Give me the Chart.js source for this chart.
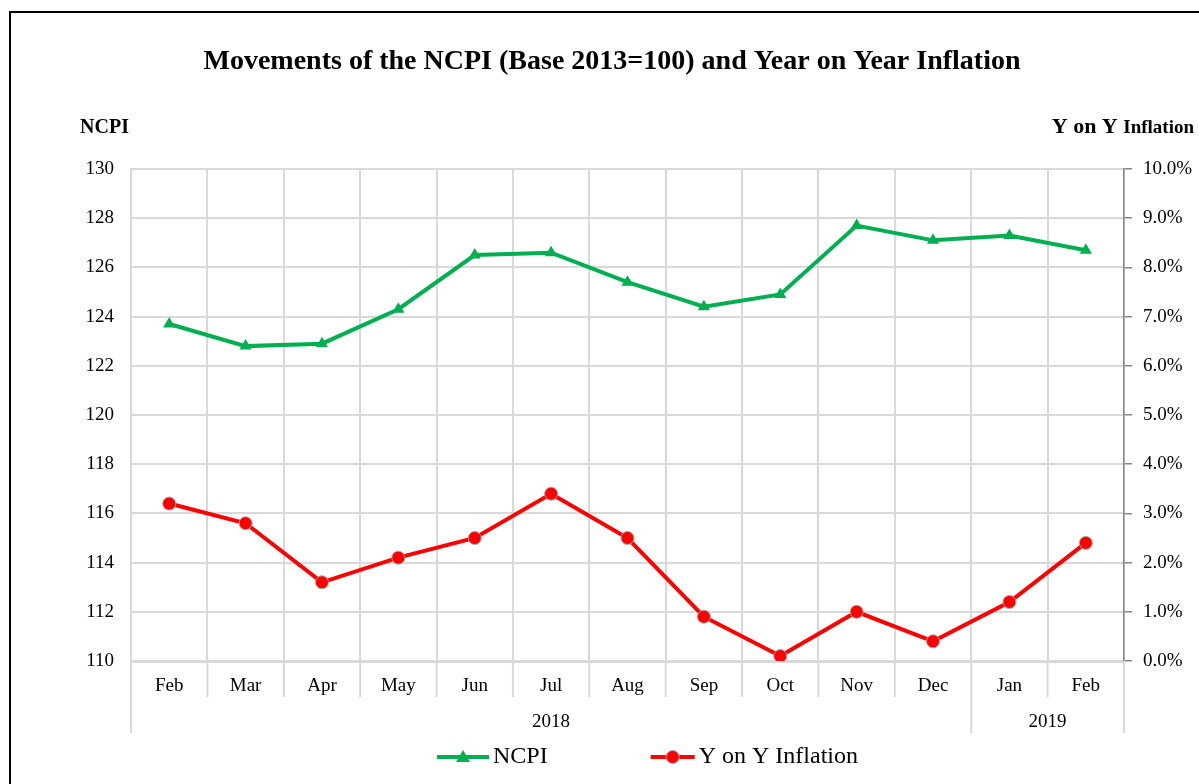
<!DOCTYPE html>
<html>
<head>
<meta charset="utf-8">
<script src="https://cdn.jsdelivr.net/npm/chart.js@4.4.0/dist/chart.umd.min.js"></script>
<style>
html, body { margin: 0; padding: 0; background: #fff; }
#frame { position: absolute; left: 9px; top: 11px; width: 1188px; height: 771px; border-left: 2px solid #000; border-top: 2px solid #000; }
#wrap { position: absolute; left: 0; top: 0; width: 1188px; height: 771px; }
</style>
</head>
<body>
<div id="frame"><div id="wrap"><canvas id="myChart"></canvas></div></div>
<script>
const months = ['Feb', 'Mar', 'Apr', 'May', 'Jun', 'Jul', 'Aug', 'Sep', 'Oct', 'Nov', 'Dec', 'Jan', 'Feb'];
const years = ['2018', '2018', '2018', '2018', '2018', '2018', '2018', '2018', '2018', '2018', '2018', '2019', '2019'];
const ncpi = [123.7, 122.8, 122.9, 124.3, 126.5, 126.6, 125.4, 124.4, 124.9, 127.7, 127.1, 127.3, 126.7];
const inflation = [3.2, 2.8, 1.6, 2.1, 2.5, 3.4, 2.5, 0.9, 0.1, 1.0, 0.4, 1.2, 2.4];
const ncpiRange = [110, 130, 2];
const inflationRange = [0, 10, 1];

const FONT = "'Liberation Serif', 'Times New Roman', serif";
const GREEN = '#00b050';
const RED = '#ff0000';
const GRID = '#d9d9d9';

// legend icon: line with marker, drawn at the right end of a wide transparent canvas
const LEGEND_BOX = 129;
function legendIcon(color, style, lineLen){
	const c = document.createElement('canvas');
	c.width = LEGEND_BOX + 18;
	c.height = 20;
	const g = c.getContext('2d');
	const end = c.width - 1, start = end - lineLen, mid = (start + end) / 2;
	g.strokeStyle = color;
	g.lineWidth = 4;
	g.beginPath(); g.moveTo(start, 10); g.lineTo(end, 10); g.stroke();
	g.fillStyle = color;
	if (style === 'triangle') {
		g.beginPath(); g.moveTo(mid, 3); g.lineTo(mid + 7, 15); g.lineTo(mid - 7, 15); g.closePath(); g.fill();
	} else {
		g.beginPath(); g.arc(mid, 10, 6.5, 0, 2 * Math.PI); g.fill();
		g.strokeStyle = '#a6a6a6'; g.lineWidth = 1; g.stroke();
	}
	return c;
}
const legendIcons = [legendIcon(GREEN, 'triangle', 52), legendIcon(RED, 'circle', 44)];

const decor = {
	id: 'decor',
	afterDraw(chart){
		const ctx = chart.ctx, x = chart.scales.x, area = chart.chartArea;
		const half = (x.getPixelForValue(1) - x.getPixelForValue(0)) / 2;
		ctx.save();
		// category separators below the axis
		ctx.strokeStyle = GRID;
		ctx.lineWidth = 2;
		for (let i = 0; i <= months.length; i++) {
			const px = i < months.length ? x.getPixelForValue(i) - half : x.getPixelForValue(i - 1) + half;
			const edge = i === 0 || i === months.length || years[i] !== years[i - 1];
			ctx.beginPath();
			ctx.moveTo(px, area.bottom);
			ctx.lineTo(px, area.bottom + (edge ? 72 : 36));
			ctx.stroke();
		}
		// year labels centred under their months
		ctx.fillStyle = '#000';
		ctx.font = '19px ' + FONT;
		ctx.textAlign = 'center';
		ctx.textBaseline = 'middle';
		let s = 0;
		for (let i = 1; i <= years.length; i++) {
			if (i === years.length || years[i] !== years[s]) {
				const cx = (x.getPixelForValue(s) + x.getPixelForValue(i - 1)) / 2;
				ctx.fillText(years[s], cx, area.bottom + 61);
				s = i;
			}
		}
		// chart title
		ctx.font = 'bold 28px ' + FONT;
		ctx.textBaseline = 'alphabetic';
		ctx.fillText('Movements of the NCPI (Base 2013=100) and Year on Year Inflation', chart.width / 2 + 7, 56);
		// axis titles
		ctx.font = 'bold 20px ' + FONT;
		ctx.textAlign = 'right';
		ctx.fillText('NCPI', area.left - 2, 120);
		ctx.font = 'bold 19px ' + FONT;
		const right = chart.width - 5;
		ctx.fillText('Inflation', right, 120);
		const w = ctx.measureText('Inflation').width;
		ctx.font = 'bold 22px ' + FONT;
		ctx.fillText('Y on Y ', right - w, 120);
		ctx.restore();
	}
};

function createChart(){
	const chart = document.getElementById('myChart');

	const data = {
		labels: months,
		datasets: [{
			label: 'NCPI',
			data: ncpi,
			yAxisID: 'y',
			borderColor: GREEN,
			backgroundColor: GREEN,
			borderWidth: 4,
			pointStyle: 'triangle',
			pointRadius: 7,
			pointBorderWidth: 0,
			tension: 0
		}, {
			label: 'Y on Y Inflation',
			data: inflation,
			yAxisID: 'y2',
			borderColor: RED,
			backgroundColor: RED,
			borderWidth: 4,
			pointStyle: 'circle',
			pointRadius: 6.5,
			pointBorderColor: '#a6a6a6',
			pointBorderWidth: 1,
			tension: 0
		}]
	};

	const config = {
		type: 'line',
		data: data,
		plugins: [decor],
		options: {
			responsive: true,
			maintainAspectRatio: false,
			animation: false,
			layout: { padding: { top: 156, left: 0, right: 0, bottom: 5 } },
			plugins: {
				title: { display: false },
				tooltip: { enabled: false },
				legend: {
					position: 'bottom',
					labels: {
						usePointStyle: true,
						pointStyleWidth: LEGEND_BOX,
						padding: 10,
						color: '#000',
						font: { family: FONT, size: 24 },
						generateLabels: c => Chart.defaults.plugins.legend.labels.generateLabels(c).map((item, i) => {
							item.pointStyle = legendIcons[i];
							return item;
						})
					}
				}
			},
			scales: {
				x: {
					offset: true,
					grid: { offset: true, color: GRID, lineWidth: 2, drawTicks: false },
					border: { color: GRID, width: 3 },
					ticks: { color: '#000', font: { family: FONT, size: 19 }, padding: 14, maxRotation: 0, autoSkip: false },
					afterFit: s => { s.height = 74; }
				},
				y: {
					position: 'left',
					min: ncpiRange[0],
					max: ncpiRange[1],
					grid: { color: GRID, lineWidth: 2, drawTicks: false },
					border: { color: GRID, width: 2 },
					ticks: { stepSize: ncpiRange[2], color: '#000', font: { family: FONT, size: 19 }, padding: 17 },
					afterFit: s => { s.width = 120; }
				},
				y2: {
					position: 'right',
					min: inflationRange[0],
					max: inflationRange[1],
					grid: { drawOnChartArea: false, color: '#868686', lineWidth: 1.5, tickLength: 8 },
					border: { color: '#868686', width: 1.5 },
					ticks: { stepSize: inflationRange[2], color: '#000', font: { family: FONT, size: 19 }, padding: 11,
						callback: v => v.toFixed(1) + '%' },
					afterFit: s => { s.width = 75; }
				}
			}
		}
	};

	new Chart(chart, config);
}

document.addEventListener('DOMContentLoaded', createChart);
</script>
</body>
</html>
